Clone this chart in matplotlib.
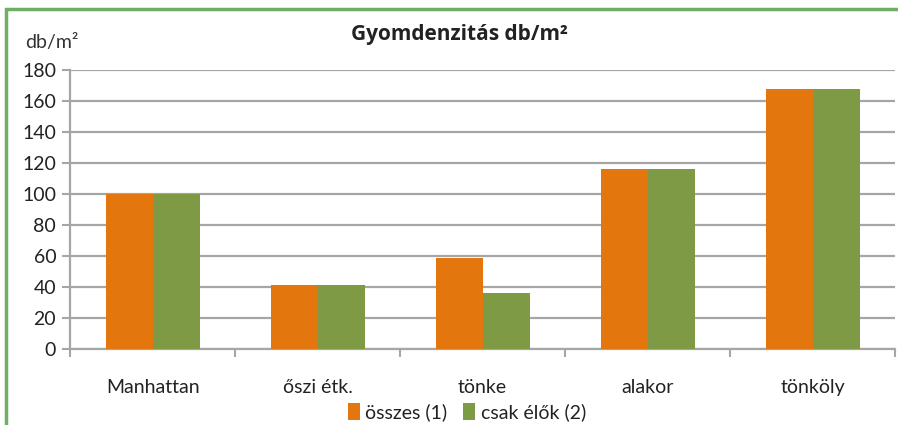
import numpy as np
import matplotlib.pyplot as plt
from matplotlib.patches import Rectangle

plt.rcParams['font.family'] = ['Lato', 'DejaVu Sans']

# Adatok
categories = ["Manhattan", "őszi étk.", "tönke", "alakor", "tönköly"]
osszes = [100, 41, 59, 116, 168]
csak_elok = [100, 41, 36, 116, 168]
series_names = ["összes (1)", "csak élők (2)"]

fig = plt.figure(figsize=(8.98, 4.25), dpi=100)
ax = fig.add_axes([0.078, 0.179, 0.919, 0.656])

x = np.arange(len(categories))
w = 0.285
ax.bar(x - w/2, osszes, w, color='#E4760E', label=series_names[0], zorder=3)
ax.bar(x + w/2, csak_elok, w, color='#7F9A44', label=series_names[1], zorder=3)

ax.set_xlim(-0.5, len(categories) - 0.5)
ax.set_ylim(0, 180)
ax.set_yticks(range(0, 181, 20))
ax.yaxis.grid(True, color='#a6a6a6', lw=1.6, zorder=0)

# x tengely osztások a kategóriák határán
ax.set_xticks(np.arange(-0.5, len(categories), 1.0))
ax.set_xticklabels([])
ax.set_xticks(x, minor=True)
ax.set_xticklabels(categories, minor=True)
ax.tick_params(axis='x', which='major', length=6, width=1.5, color='#a6a6a6')
ax.tick_params(axis='x', which='minor', length=0, pad=22, labelsize=14, labelcolor='#222222')
ax.tick_params(axis='y', length=6, width=1.5, color='#a6a6a6', labelsize=14,
               labelcolor='#222222', pad=4)

for s in ['top', 'right']:
    ax.spines[s].set_visible(False)
for s in ['left', 'bottom']:
    ax.spines[s].set_color('#a6a6a6')
    ax.spines[s].set_linewidth(1.6)

fig.text(0.512, 0.918, "Gyomdenzitás db/m²", ha='center', va='center',
         fontsize=15, fontweight='bold', color='#222222',
         family=['Open Sans', 'DejaVu Sans'])
fig.text(0.028, 0.9, "db/m²", ha='left', va='center', fontsize=14, color='#333333')

fig.legend(loc='center', bbox_to_anchor=(0.52, 0.03), ncol=2, frameon=False,
           fontsize=14, handlelength=0.6, handleheight=0.9, handletextpad=0.3,
           columnspacing=0.8, labelcolor='#222222')

# zöld keret
fig.patches.append(Rectangle((6/898, -0.2), 1.2, 1.2 - 9/425, transform=fig.transFigure,
                             fill=False, edgecolor='#6FAE63', lw=2.5))

fig.savefig('out.png', dpi=100)
